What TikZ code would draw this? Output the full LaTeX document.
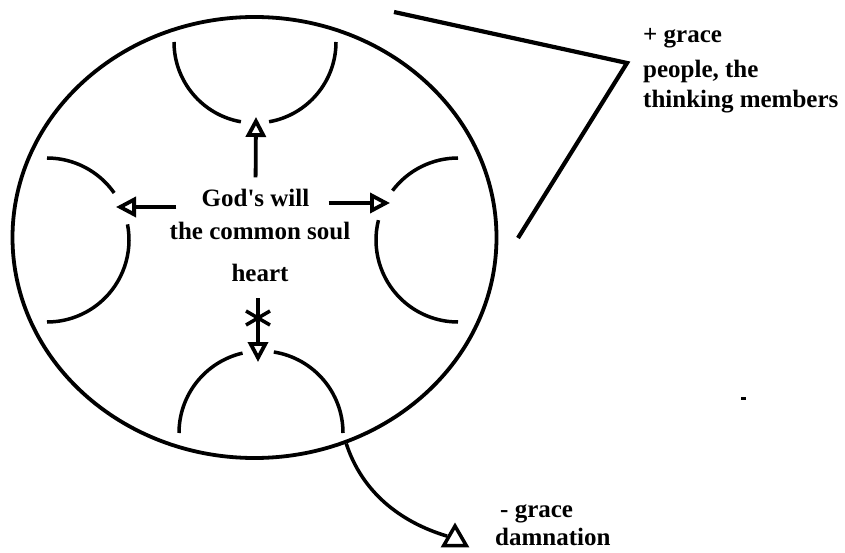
\documentclass[tikz,border=0pt]{standalone}
\usepackage{fontspec}
\setmainfont{Liberation Serif}
\usetikzlibrary{shapes.geometric,arrows.meta}

\begin{document}
\begin{tikzpicture}[x=1pt, y=1pt,
    rim/.style={draw, ellipse, line width=3.8pt, minimum width=484pt,
                minimum height=441pt, inner sep=0pt},
    cup/.style={line width=3.5pt},
    flow/.style={line width=3.8pt, -{Triangle[open, length=20pt, width=20pt]}},
    bracket/.style={line width=4.2pt},
    word/.style={font=\fontsize{25}{32}\selectfont\bfseries, inner sep=0pt},
  ]
  \useasboundingbox (0,0) rectangle (845,552);
  \node[rim] (soulring) at (254.5,314.5) {};

  % centres of the four cups
  \coordinate (topc) at (255,510);
  \coordinate (leftc) at (47,312);
  \coordinate (rightc) at (458,312);
  \coordinate (botc) at (261,119);

  \draw[cup] ([shift={(180:81pt)}]topc) arc[start angle=180, end angle=260, radius=81pt];
  \draw[cup] ([shift={(280:81pt)}]topc) arc[start angle=280, end angle=360, radius=81pt];
  \draw[cup] ([shift={(90:82pt)}]leftc) arc[start angle=90, end angle=35, radius=82pt];
  \draw[cup] ([shift={(11:82pt)}]leftc) arc[start angle=11, end angle=-90, radius=82pt];
  \draw[cup] ([shift={(90:82pt)}]rightc) arc[start angle=90, end angle=143, radius=82pt];
  \draw[cup] ([shift={(166:82pt)}]rightc) arc[start angle=166, end angle=270, radius=82pt];
  \draw[cup] ([shift={(180:82pt)}]botc) arc[start angle=180, end angle=103, radius=82pt];
  \draw[cup] ([shift={(81:82pt)}]botc) arc[start angle=81, end angle=0, radius=82pt];

  % arrow tips
  \coordinate (toptip) at (256,435);
  \coordinate (lefttip) at (116,345);
  \coordinate (righttip) at (390,349);
  \coordinate (bottip) at (258,190);

  \node[word, anchor=base] (will) at (255.5,345) {God\textquotesingle s will};
  \node[word, anchor=base] (soul) at (260,312) {the common soul};
  \node[word, anchor=base] (heart) at (260,270) {heart};

  \draw[flow, shorten <=12pt] (will.north) -- (toptip);
  \draw[flow, shorten <=25pt] (will.west |- lefttip) -- (lefttip);
  \draw[flow, shorten <=19pt] (will.east |- righttip) -- (righttip);

  % the star above the heart
  \coordinate (star) at (258,234);
  \draw[cup] ([shift={(-12pt,7pt)}]star) -- ([shift={(12pt,-7pt)}]star);
  \draw[cup] ([shift={(-12pt,-7pt)}]star) -- ([shift={(12pt,7pt)}]star);
  \draw[flow] ([yshift=20pt]star) -- (bottip);

  % bracket to the thinking members
  \coordinate (brA) at (394,540);
  \coordinate (brB) at (627,489);
  \coordinate (brC) at (518,314);
  \draw[bracket] (brA) -- (brB) -- (brC);
  \node[word, anchor=base west, align=left] (grace) at (643,444)
    {+ grace\\[3pt]people, the\\[-2pt]thinking members};

  % way out to damnation
  \node[draw, regular polygon, regular polygon sides=3, minimum size=26pt,
        line width=3.5pt, inner sep=0pt] (damntri) at (455,13) {};
  \draw[cup] (soulring.-66) .. controls (362,60) and (400,30) .. (damntri.160);
  \node[word, anchor=base west, align=left] (damn) at (495,7)
    {\hspace*{5pt}- grace\\[-4pt]damnation};

  \fill (741,152) rectangle (746,155);
\end{tikzpicture}
\end{document}
